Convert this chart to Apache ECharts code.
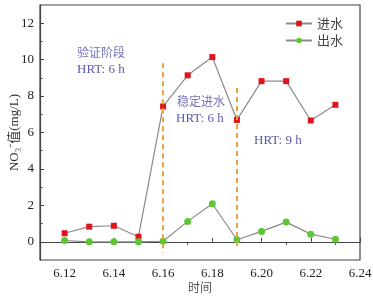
<!DOCTYPE html>
<html>
<head>
<meta charset="utf-8">
<script src="https://cdn.jsdelivr.net/npm/echarts@6/dist/echarts.min.js"></script>
<style>
  html, body { margin: 0; padding: 0; background: #fff; }
  #chart { width: 373px; height: 297px; }
</style>
</head>
<body>
<div id="chart"></div>
<script>
// 日期
var dates = [6.12, 6.13, 6.14, 6.15, 6.16, 6.17, 6.18, 6.19, 6.20, 6.21, 6.22, 6.23];
// 进水
var influent = [0.47, 0.83, 0.88, 0.28, 7.43, 9.14, 10.14, 6.69, 8.82, 8.82, 6.66, 7.52];
// 出水
var effluent = [0.07, 0.0, 0.0, 0.0, 0.03, 1.12, 2.09, 0.11, 0.57, 1.08, 0.42, 0.14];
// 刻度
var xTicks = [6.12, 6.14, 6.16, 6.18, 6.20, 6.22, 6.24];
var xMinorTicks = [6.13, 6.15, 6.17, 6.19, 6.21, 6.23];
var yTicks = [0, 2, 4, 6, 8, 10, 12];
var yMinorTicks = [1, 3, 5, 7, 9, 11];
// 分段虚线 [x, 上端, 下端]
var stageLines = [[6.16, 9.8, -0.6], [6.19, 8.45, -0.45]];

var serif = '"Liberation Serif", "Noto Sans CJK SC", serif';
var axisColor = '#444';

function pairs(vals) {
  return dates.map(function (d, i) { return [d, vals[i]]; });
}

var chart = echarts.init(document.getElementById('chart'));

var option = {
  backgroundColor: '#fff',
  animation: false,
  grid: {
    left: 40, right: 13, top: 5, bottom: 37,
    outerBoundsMode: 'none',
    containLabel: false,
    show: true, borderColor: axisColor, borderWidth: 1.2
  },
  legend: {
    left: 280, top: 12,
    orient: 'vertical',
    itemWidth: 26, itemHeight: 7, itemGap: 4,
    textStyle: { color: '#444', fontSize: 13, fontFamily: '"Noto Sans CJK SC", sans-serif' },
    data: ['进水', '出水']
  },
  xAxis: [{
    type: 'value',
    min: 6.11, max: 6.24,
    name: '时间',
    nameLocation: 'middle',
    nameGap: 21,
    nameMoveOverlap: false,
    nameTextStyle: { color: '#555', fontSize: 12, fontFamily: '"Noto Sans CJK SC", sans-serif' },
    axisLine: { lineStyle: { color: axisColor, width: 1.2 } },
    axisTick: { inside: true, length: 4, customValues: xTicks, lineStyle: { color: axisColor } },
    axisLabel: {
      customValues: xTicks, color: '#222', fontSize: 13, fontFamily: serif, margin: 7,
      formatter: function (v) { return v.toFixed(2); }
    },
    splitLine: { show: false }
  }, {
    type: 'value',
    min: 6.11, max: 6.24,
    position: 'bottom',
    axisLine: { show: false },
    axisTick: { inside: false, length: 3, customValues: xMinorTicks, lineStyle: { color: axisColor } },
    axisLabel: { show: false },
    splitLine: { show: false }
  }],
  yAxis: [{
    type: 'value',
    min: -1, max: 13,
    name: 'NO₃⁻值(mg/L)',
    nameLocation: 'middle',
    nameGap: 19,
    nameMoveOverlap: false,
    nameTextStyle: { color: '#333', fontSize: 13, fontFamily: serif },
    axisLine: { show: true, lineStyle: { color: axisColor, width: 1.2 } },
    axisTick: { inside: true, length: 4, customValues: yTicks, lineStyle: { color: axisColor } },
    axisLabel: { customValues: yTicks, color: '#222', fontSize: 13, fontFamily: serif, margin: 6 },
    splitLine: { show: false }
  }, {
    type: 'value',
    min: -1, max: 13,
    position: 'left',
    axisLine: { show: false },
    axisTick: { inside: true, length: 2.5, customValues: yMinorTicks, lineStyle: { color: axisColor } },
    axisLabel: { show: false },
    splitLine: { show: false }
  }],
  series: [{
    name: '进水',
    type: 'line',
    data: pairs(influent),
    symbol: 'rect',
    symbolSize: 6,
    lineStyle: { color: '#8a8a8a', width: 1.2 },
    itemStyle: { color: '#e0141a' },
    markLine: {
      silent: true,
      symbol: 'none',
      label: { show: false },
      lineStyle: { color: '#e9a43e', type: [5, 4], width: 2 },
      data: stageLines.map(function (s) {
        return [{ coord: [s[0], s[1]] }, { coord: [s[0], s[2]] }];
      })
    },
    z: 3
  }, {
    name: '出水',
    type: 'line',
    data: pairs(effluent),
    symbol: 'circle',
    symbolSize: 7,
    lineStyle: { color: '#8a8a8a', width: 1.2 },
    itemStyle: { color: '#5cc732' },
    z: 3
  }],
  graphic: [
    { type: 'text', left: 77, top: 46, style: { text: '验证阶段', fill: '#7474b8', font: '12px "Noto Sans CJK SC", sans-serif' } },
    { type: 'text', left: 77, top: 63, style: { text: 'HRT: 6 h', fill: '#5a5aa8', font: '13px "Liberation Serif", serif' } },
    { type: 'text', left: 177, top: 95, style: { text: '稳定进水', fill: '#7474b8', font: '12px "Noto Sans CJK SC", sans-serif' } },
    { type: 'text', left: 176, top: 112, style: { text: 'HRT: 6 h', fill: '#5a5aa8', font: '13px "Liberation Serif", serif' } },
    { type: 'text', left: 254, top: 134, style: { text: 'HRT: 9 h', fill: '#5a5aa8', font: '13px "Liberation Serif", serif' } }
  ]
};

chart.setOption(option);
</script>
</body>
</html>
